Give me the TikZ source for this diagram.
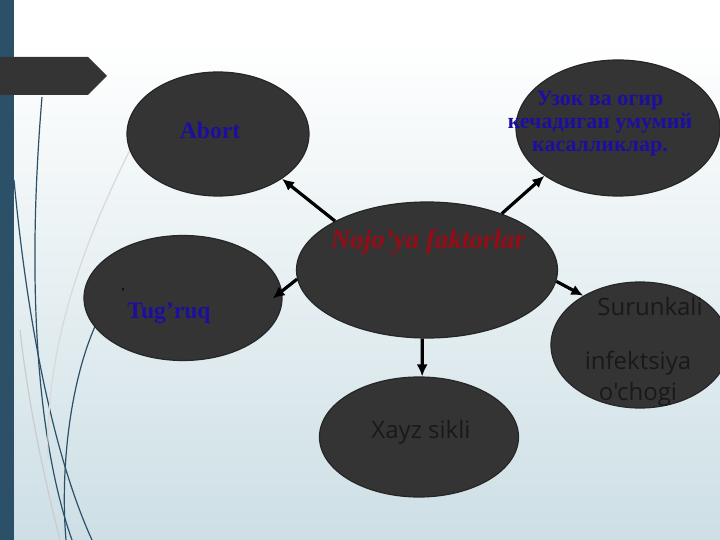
\documentclass[tikz,border=0pt]{standalone}
\usepackage{fontspec}
\setmainfont{Liberation Serif}
\newfontfamily\sansfont{Open Sans}
\usetikzlibrary{shapes.geometric,arrows.meta}
\definecolor{ovalgray}{RGB}{52,52,52}
\definecolor{barblue}{RGB}{44,80,104}
\definecolor{labelblue}{RGB}{28,14,160}
\definecolor{labelred}{RGB}{150,12,22}
\definecolor{bgbottom}{RGB}{205,223,229}
\tikzstyle{oval} = [ellipse, draw=black!85, fill=ovalgray, line width=0.6pt, inner sep=0pt]
\tikzstyle{bluetext} = [text=labelblue, font=\fontsize{11.8}{13}\selectfont\bfseries, align=center]
\tikzstyle{sanstext} = [text=black!90, font=\fontsize{12}{14}\selectfont\sansfont, align=center]
\tikzstyle{pointer} = [-{Latex[length=6pt,width=5.5pt]}, line width=1.6pt]
\tikzstyle{swirl} = [barblue, line width=0.6pt]

\begin{document}
\begin{tikzpicture}[x=0.5pt, y=-0.5pt]
	\useasboundingbox (0,0) rectangle (720,540);
	\fill[white] (0,0) rectangle (720,540);
	\shade[top color=white, bottom color=bgbottom] (0,40) rectangle (720,540);
	\fill[barblue] (0,0) rectangle (14,540);
	\fill[ovalgray] (0,57) -- (88,57) -- (107,76) -- (88,95) -- (0,95) -- cycle;
	% thin swirls on the left
	\draw[swirl] (42,97) .. controls (25,300) and (40,450) .. (72,540);
	\draw[swirl] (14,180) .. controls (30,350) and (60,470) .. (92,540);
	\draw[swirl] (97,322) .. controls (70,380) and (60,470) .. (66,540);
	\draw[swirl, black!15] (130,150) .. controls (80,250) and (45,350) .. (48,460);
	\draw[swirl, black!20] (20,330) .. controls (30,420) and (50,500) .. (60,540);
	% ovals
	\node[oval, minimum width=91pt, minimum height=62pt] (abort) at (218,134) {};
	\node[oval, minimum width=102pt, minimum height=68pt] (illness) at (618,128) {};
	\node[oval, minimum width=130.5pt, minimum height=68pt] (factors) at (427,270) {};
	\node[oval, minimum width=99pt, minimum height=62.5pt] (birth) at (183,298) {};
	\node[oval, minimum width=89pt, minimum height=63pt] (infection) at (640,345) {};
	\node[oval, minimum width=99.5pt, minimum height=60pt] (cycle) at (419,437) {};
	% labels
	\node[bluetext] (abortlbl) at (210,130) {Abort};
	\node[bluetext, font=\fontsize{11}{11.5}\selectfont\bfseries] (illnesslbl) at (600,124) {Узок ва огир\\кечадиган умумий\\касалликлар.};
	\node[text=labelred, font=\fontsize{13.5}{15}\selectfont\bfseries\itshape] (factorslbl) at (428,242) {Nojo'ya faktorlar};
	\node[bluetext] (birthlbl) at (169,313) {Tug'ruq};
	\node[font=\fontsize{7}{7}\selectfont] (mark) at (123,293) {'};
	\node[sanstext] (infectlbla) at (650,307) {Surunkali};
	\node[sanstext] (infectlblb) at (638,363) {infektsiya};
	\node[sanstext] (infectlblc) at (638,394) {o'chogi};
	\node[sanstext] (cyclelbl) at (421,432) {Xayz sikli};
	% arrows
	\draw[pointer] (factors.152) -- (abort.325);
	\draw[pointer] (factors.37) -- (illness.213);
	\draw[pointer, shorten >=-6pt] (factors.184) -- (birth.4);
	\draw[pointer] (factors.355) -- (infection.139);
	\draw[pointer] (factors.266) -- (cycle.87);
\end{tikzpicture}
\end{document}
